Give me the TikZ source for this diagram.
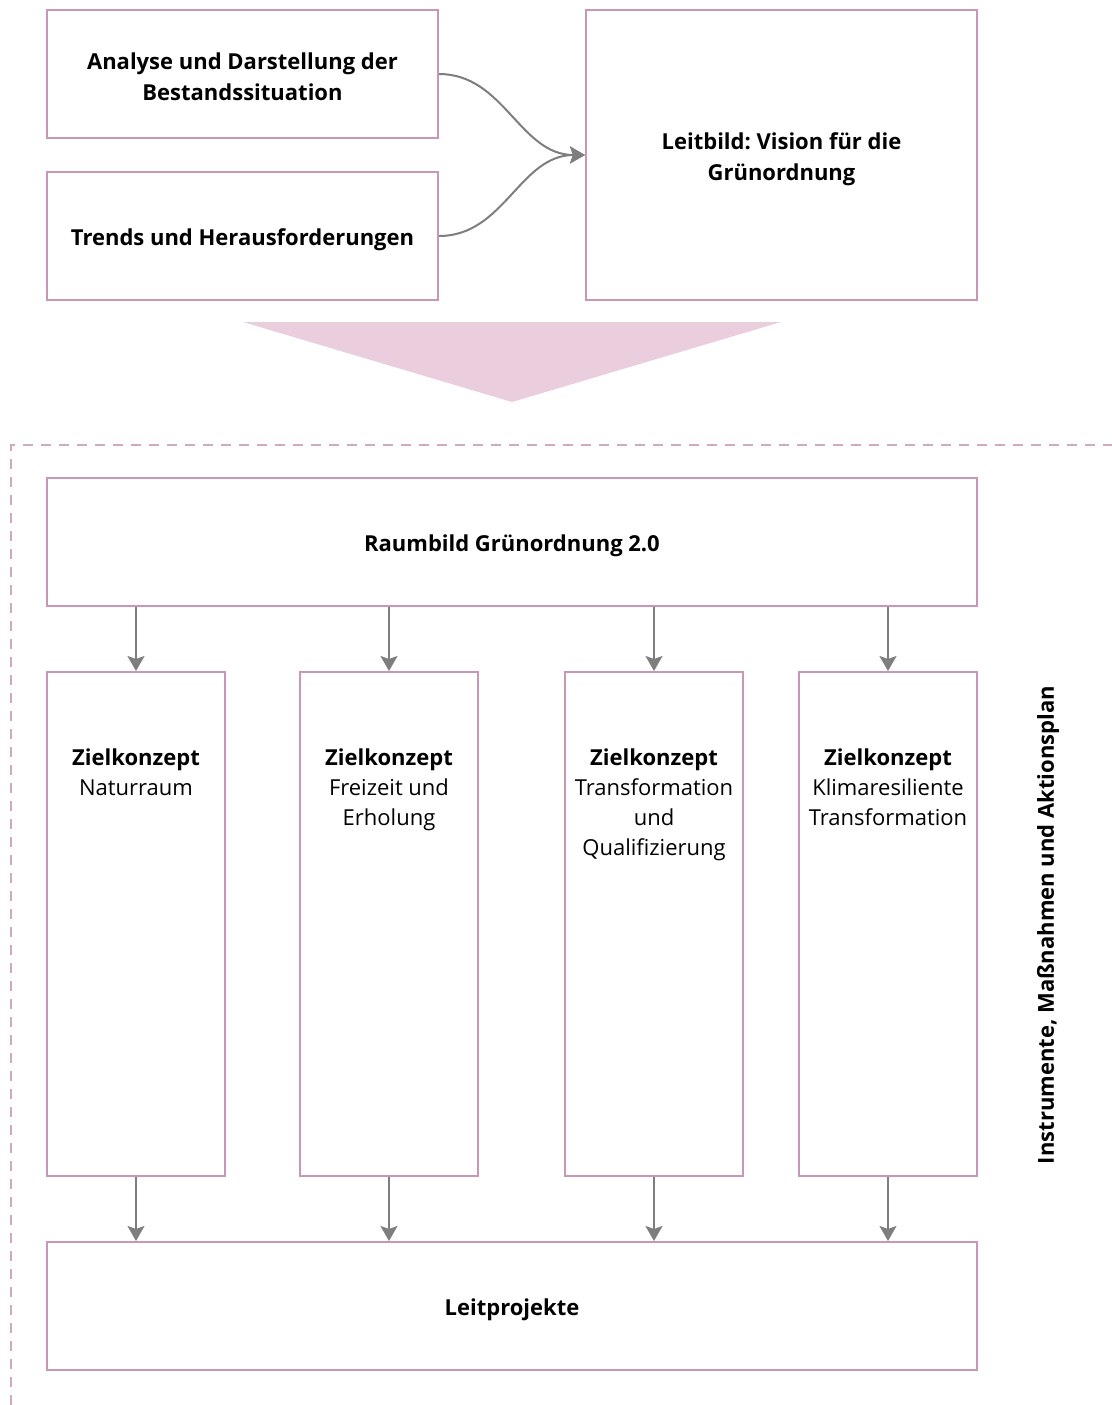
\documentclass[tikz,border=0pt]{standalone}
\usepackage{fontspec}
\setmainfont{Open Sans}
\frenchspacing
\usetikzlibrary{positioning, arrows.meta, calc}
\definecolor{rahmen}{HTML}{C997B6}
\definecolor{strich}{HTML}{CFA9BE}
\definecolor{keil}{HTML}{EBCEDE}
\definecolor{pfeil}{HTML}{7E7E7E}
\begin{document}
\begin{tikzpicture}[x=0.5pt, y=-0.5pt,
    font=\fontsize{11}{15}\selectfont,
    box/.style={draw=rahmen, line width=1pt, fill=white, minimum width=195.5pt, minimum height=64pt},
    widebox/.style={box, minimum width=465pt},
    boxtext/.style={align=center, inner sep=0pt, font=\fontsize{11}{15.3}\selectfont\bfseries},
    colbox/.style={draw=rahmen, line width=1pt, minimum width=89pt, minimum height=252pt},
    coltext/.style={align=center, anchor=north, inner sep=0pt},
    pfeilstil/.style={draw=pfeil, line width=1pt, -{Stealth[length=7.5pt, width=8.5pt, inset=1.5pt]}}]
    \useasboundingbox (0,0) rectangle (1112,1405);
    \draw[strich, line width=1pt, dash pattern=on 5pt off 4pt] (11,1405)--(11,445)--(1112,445);
    \node[box] (analyse) at (242.5,74) {};
    \node[boxtext] (analyse-text) at ($(analyse)+(0,3)$) {Analyse und Darstellung der\\Bestandssituation};
    \node[box] (trends) at (242.5,236) {};
    \node[boxtext] (trends-text) at ($(trends)+(0,4)$) {Trends und Herausforderungen};
    \node[box, minimum height=145pt] (leitbild) at (781.5,155) {};
    \node[boxtext] (leitbild-text) at ($(leitbild)+(0,4)$) {Leitbild: Vision für die\\Grünordnung};
    \draw[pfeilstil] (analyse.east) to[out=0, in=180] (leitbild.west);
    \draw[pfeilstil] (trends.east) to[out=0, in=180] (leitbild.west);
    \fill[keil] (243,322)--(781,322)--(512,402)--cycle;
    \node[widebox] (raumbild) at (512,542) {};
    \node[boxtext] (raumbild-text) at ($(raumbild)+(0,4)$) {Raumbild Grünordnung 2.0};
    \node[colbox] (natur) at (136,924) {};
    \node[colbox] (freizeit) at (389,924) {};
    \node[colbox] (transform) at (654,924) {};
    \node[colbox] (klima) at (888,924) {};
    \node[coltext] (natur-text) at ($(natur.north)+(0,77)$) {\textbf{Zielkonzept}\\Naturraum};
    \node[coltext] (freizeit-text) at ($(freizeit.north)+(0,77)$) {\textbf{Zielkonzept}\\Freizeit und\\Erholung};
    \node[coltext] (transform-text) at ($(transform.north)+(0,77)$) {\textbf{Zielkonzept}\\Transformation\\und\\Qualifizierung};
    \node[coltext] (klima-text) at ($(klima.north)+(0,77)$) {\textbf{Zielkonzept}\\Klimaresiliente\\Transformation};
    \node[widebox] (leitprojekte) at (512,1306) {};
    \node[boxtext] (leitprojekte-text) at ($(leitprojekte)+(0,4)$) {Leitprojekte};
    \foreach \z in {natur, freizeit, transform, klima} {
        \draw[pfeilstil] (raumbild.south -| \z.north) -- (\z.north);
        \draw[pfeilstil] (\z.south) -- (leitprojekte.north -| \z.south);
    }
    \node[rotate=90, font=\fontsize{11}{15}\selectfont\bfseries] (instrumente) at (1048,925) {Instrumente, Maßnahmen und Aktionsplan};
\end{tikzpicture}
\end{document}
